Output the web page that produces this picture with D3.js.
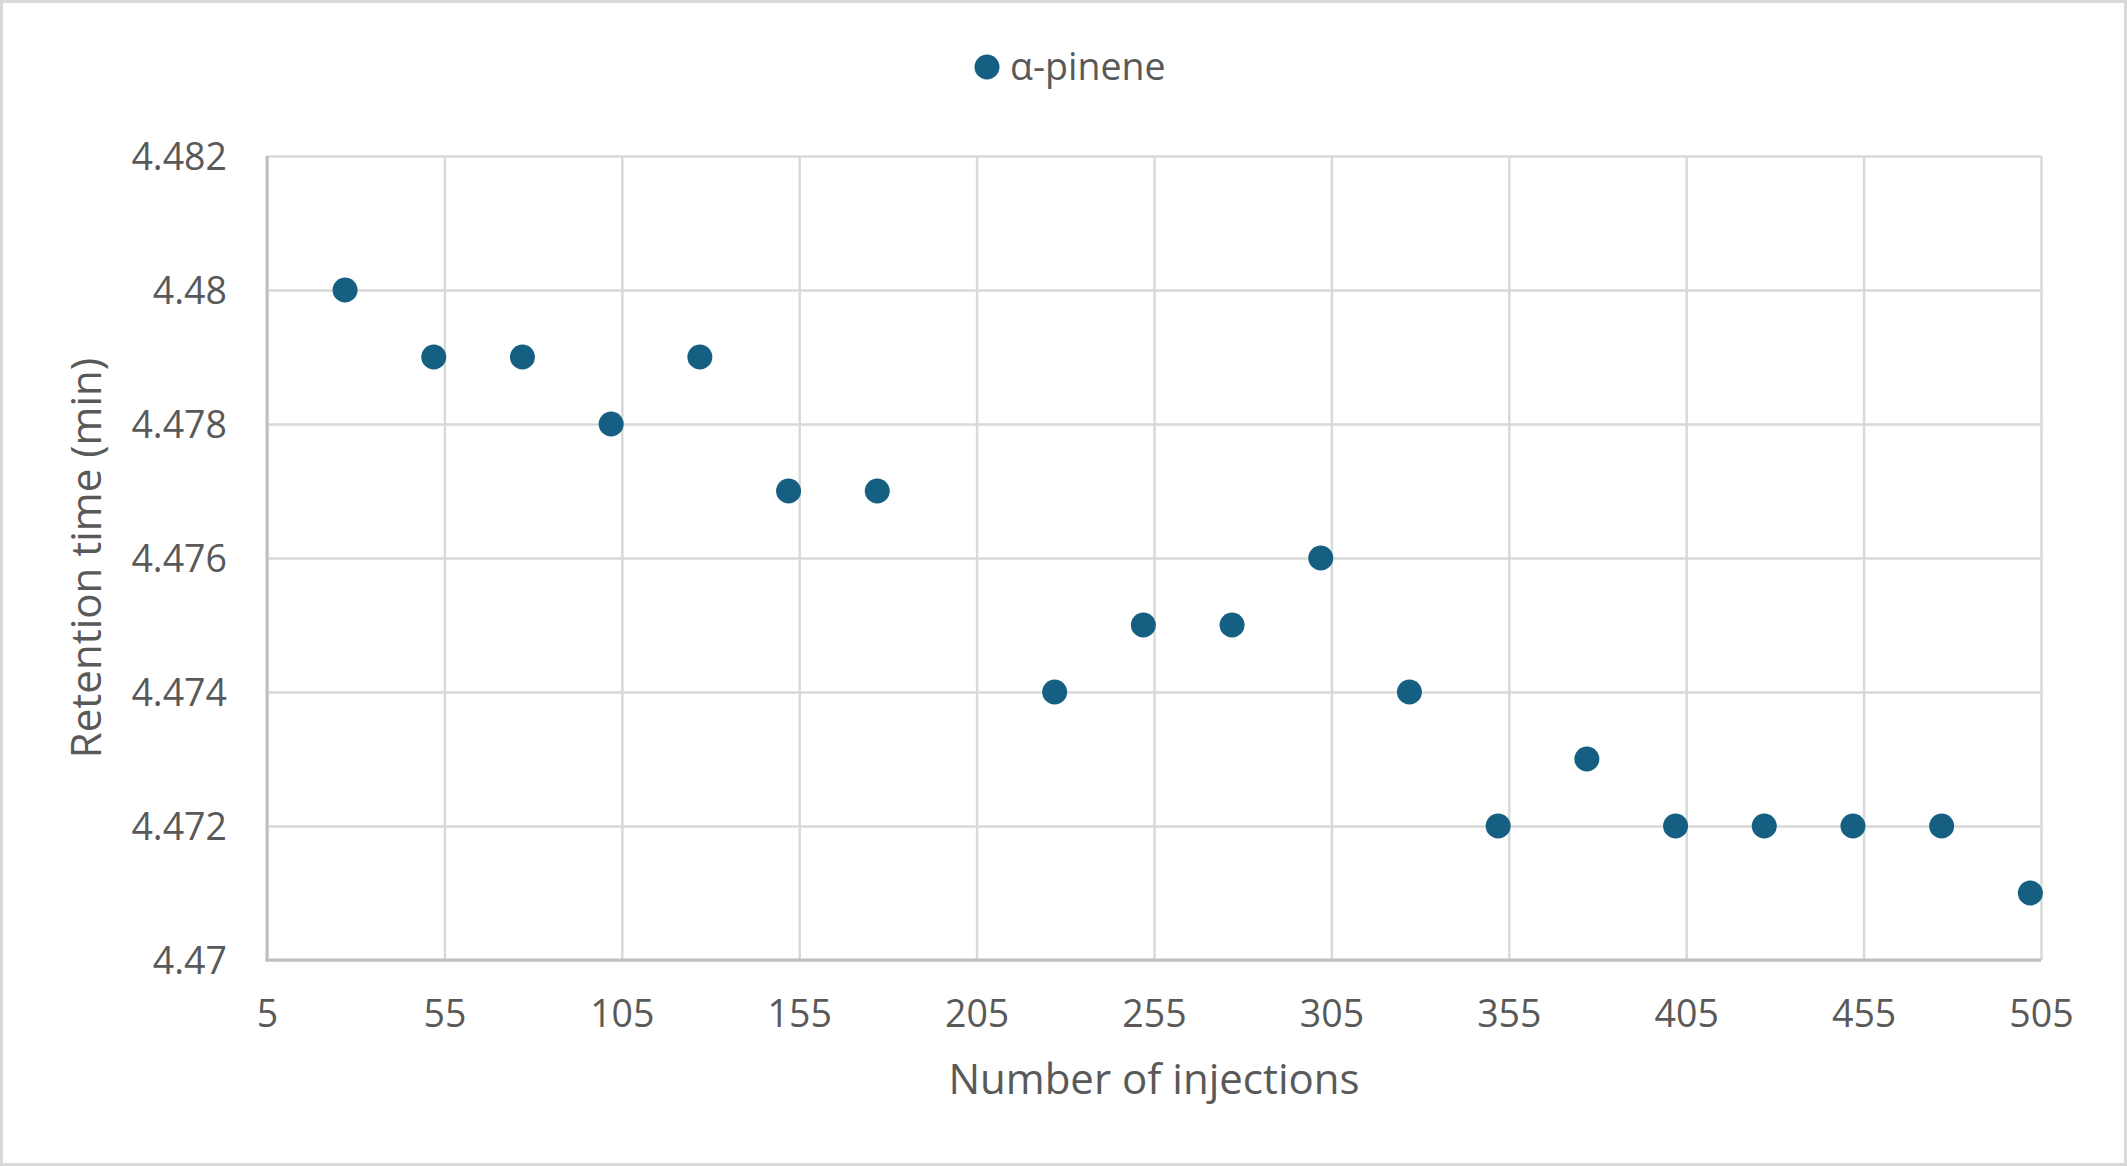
<!DOCTYPE html>
<html>
<head>
<meta charset="utf-8">
<script src="https://cdn.jsdelivr.net/npm/d3@7"></script>
<style>
  html, body { margin: 0; padding: 0; background: #fff; }
  svg { display: block; }
  text { font-family: "Open Sans", "Liberation Sans", sans-serif; fill: #595959; }
</style>
</head>
<body>
<svg id="chart" width="2127" height="1166"></svg>
<script>
// ---- data ----
const seriesName = "α-pinene";
const injections = [27, 52, 77, 102, 127, 152, 177, 227, 252, 277, 302, 327, 352, 377, 402, 427, 452, 477, 502];
const retentionTimes = [4.480, 4.479, 4.479, 4.478, 4.479, 4.477, 4.477, 4.474, 4.475, 4.475, 4.476, 4.474, 4.472, 4.473, 4.472, 4.472, 4.472, 4.472, 4.471];
const xTicks = [5, 55, 105, 155, 205, 255, 305, 355, 405, 455, 505];
const yTicks = [4.470, 4.472, 4.474, 4.476, 4.478, 4.480, 4.482];
const xTitle = "Number of injections";
const yTitle = "Retention time (min)";

// ---- layout ----
const W = 2127, H = 1166;
const plot = { left: 267, right: 2041, top: 156, bottom: 960 };
const color = "#156082";
const gridColor = "#d9d9d9";
const axisColor = "#bfbfbf";

const svg = d3.select("#chart");

svg.append("rect")
  .attr("x", 1.5).attr("y", 1.5)
  .attr("width", W - 3).attr("height", H - 3)
  .attr("fill", "#fff").attr("stroke", "#d9d9d9").attr("stroke-width", 3);

const x = d3.scaleLinear().domain([5, 505]).range([plot.left, plot.right]);
const y = d3.scaleLinear().domain([4.470, 4.482]).range([plot.bottom, plot.top]);

// gridlines
const gx = svg.append("g").attr("transform", `translate(0,${plot.bottom})`)
  .call(d3.axisBottom(x).tickValues(xTicks).tickSize(-(plot.bottom - plot.top)).tickFormat(""));
gx.select(".domain").remove();
gx.selectAll("line").attr("stroke", gridColor).attr("stroke-width", 2.5);

const gy = svg.append("g").attr("transform", `translate(${plot.left},0)`)
  .call(d3.axisLeft(y).tickValues(yTicks).tickSize(-(plot.right - plot.left)).tickFormat(""));
gy.select(".domain").remove();
gy.selectAll("line").attr("stroke", gridColor).attr("stroke-width", 2.5);

// axis lines
svg.append("line")
  .attr("x1", plot.left).attr("x2", plot.left)
  .attr("y1", plot.top).attr("y2", plot.bottom + 1.5)
  .attr("stroke", axisColor).attr("stroke-width", 3);
svg.append("line")
  .attr("x1", plot.left - 1.5).attr("x2", plot.right)
  .attr("y1", plot.bottom).attr("y2", plot.bottom)
  .attr("stroke", axisColor).attr("stroke-width", 3);

// tick labels
const xl = svg.append("g").attr("transform", `translate(0,${plot.bottom + 54})`)
  .call(d3.axisBottom(x).tickValues(xTicks).tickSize(0).tickPadding(0).tickFormat(d3.format("d")));
xl.select(".domain").remove();
xl.selectAll("text")
  .attr("dy", "0.35em").attr("y", 0)
  .style("font-size", "37.5px").style("font-family", '"Open Sans", sans-serif').attr("fill", "#595959");

const yl = svg.append("g").attr("transform", `translate(${plot.left - 40},0)`)
  .call(d3.axisLeft(y).tickValues(yTicks).tickSize(0).tickPadding(0).tickFormat(d => String(+d.toFixed(3))));
yl.select(".domain").remove();
yl.selectAll("text")
  .attr("dy", "0.35em")
  .style("font-size", "37.5px").style("font-family", '"Open Sans", sans-serif').attr("fill", "#595959");

// points
svg.append("g").selectAll("circle")
  .data(injections.map((d, i) => [d, retentionTimes[i]]))
  .join("circle")
  .attr("cx", d => x(d[0]))
  .attr("cy", d => y(d[1]))
  .attr("r", 12.5)
  .attr("fill", color);

// axis titles
svg.append("text")
  .attr("x", (plot.left + plot.right) / 2).attr("y", 1094)
  .attr("text-anchor", "middle")
  .style("font-size", "42px")
  .text(xTitle);

svg.append("text")
  .attr("transform", `translate(101,${(plot.top + plot.bottom) / 2}) rotate(-90)`)
  .attr("text-anchor", "middle")
  .style("font-size", "42px")
  .text(yTitle);

// legend
const lg = svg.append("g").attr("transform", "translate(987,67)");
lg.append("circle").attr("r", 12.5).attr("fill", color);
lg.append("text").attr("x", 23).attr("dy", "0.35em")
  .style("font-size", "37.5px").text(seriesName);
</script>
</body>
</html>
